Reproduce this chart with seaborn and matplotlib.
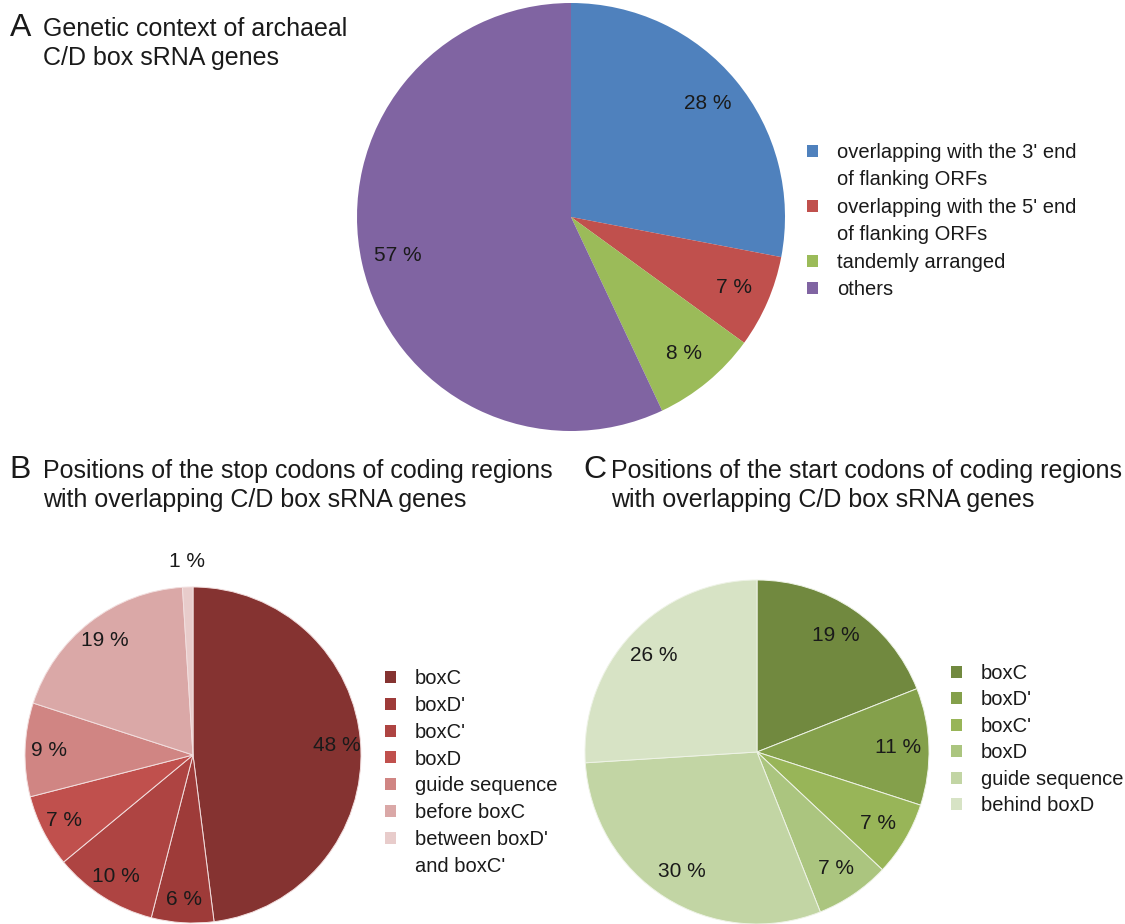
import matplotlib
matplotlib.use("Agg")
import matplotlib.pyplot as plt
from matplotlib.patches import Patch
import numpy as np
import seaborn as sns

sns.set_theme(style="white")
plt.rcParams["font.family"] = ["Liberation Sans", "DejaVu Sans"]

# Panel A: genetic context
ctx_labels = ["overlapping with the 3' end\nof flanking ORFs",
              "overlapping with the 5' end\nof flanking ORFs",
              "tandemly arranged", "others"]
ctx_values = [28, 7, 8, 57]
ctx_colors = ["#4F81BD", "#C0504D", "#9BBB59", "#8064A2"]

# Panel B: stop codon positions
stop_labels = ["boxC", "boxD'", "boxC'", "boxD", "guide sequence",
               "before boxC", "between boxD'\nand boxC'"]
stop_values = [48, 6, 10, 7, 9, 19, 1]
stop_colors = ["#853331", "#9E3B39", "#AE4442", "#C0504D", "#D08583",
               "#DAA8A7", "#E8CCCB"]

# Panel C: start codon positions
start_labels = ["boxC", "boxD'", "boxC'", "boxD", "guide sequence",
                "behind boxD"]
start_values = [19, 11, 7, 7, 30, 26]
start_colors = ["#71893F", "#84A04B", "#98B558", "#ABC57F", "#C2D5A4",
                "#D7E3C5"]

W, H = 1125, 924
TXT = "#1a1a1a"
fig = plt.figure(figsize=(W / 100, H / 100), dpi=100)
fig.patch.set_facecolor("white")


def px_axes(cx, cy, r):
    return fig.add_axes([(cx - r) / W, (H - cy - r) / H, 2 * r / W, 2 * r / H])


def draw_pie(ax, values, colors, pctdist, edge):
    wedges, _, autos = ax.pie(
        values, colors=colors, startangle=90, counterclock=False,
        autopct=lambda p: f"{p:.0f} %", pctdistance=pctdist,
        wedgeprops=dict(edgecolor=edge, linewidth=0.7 if edge != "none" else 0),
        textprops=dict(fontsize=15, color=TXT))
    ax.set_xlim(-1, 1)
    ax.set_ylim(-1, 1)
    ax.set_aspect("equal")
    ax.axis("off")
    return wedges, autos


def split_legend(labels, colors):
    # wrapped labels: colour square on the first line only
    handles, texts = [], []
    for lab, col in zip(labels, colors):
        lines = lab.split("\n")
        handles.append(Patch(facecolor=col, edgecolor="none"))
        texts.append(lines[0])
        for extra in lines[1:]:
            handles.append(Patch(facecolor="none", edgecolor="none"))
            texts.append(extra)
    return handles, texts


def add_legend(labels, colors, x, y, spacing):
    handles, texts = split_legend(labels, colors)
    leg = fig.legend(handles, texts, loc="upper left",
                     bbox_to_anchor=(x / W, 1 - y / H),
                     bbox_transform=fig.transFigure,
                     frameon=False, fontsize=14.5, handlelength=0.54,
                     handleheight=0.54, handletextpad=0.95,
                     labelspacing=spacing, borderpad=0, borderaxespad=0)
    for t in leg.get_texts():
        t.set_color(TXT)


def heading(letter, lx, tx, y0, lines):
    fig.text(lx / W, 1 - y0 / H, letter, fontsize=23, color=TXT, va="baseline")
    for i, line in enumerate(lines):
        fig.text(tx / W, 1 - (y0 + 29 * i) / H, line, fontsize=18, color=TXT,
                 va="baseline")


# Panel A
axA = px_axes(571, 217, 214)
draw_pie(axA, ctx_values, ctx_colors, 0.83, "none")
add_legend(ctx_labels, ctx_colors, 807, 143, 0.42)

# Panel B
axB = px_axes(193, 755, 168)
wB, tB = draw_pie(axB, stop_values, stop_colors, 0.86, "#f2dede")
small = int(np.argmin(stop_values))
ang = np.deg2rad((wB[small].theta1 + wB[small].theta2) / 2)
tB[small].set_position((1.15 * np.cos(ang), 1.15 * np.sin(ang)))
add_legend(stop_labels, stop_colors, 385, 669, 0.39)

# Panel C
axC = px_axes(757, 752, 172)
draw_pie(axC, start_values, start_colors, 0.82, "#eef3e6")
add_legend(start_labels, start_colors, 951, 664, 0.37)

# Panel headings
heading("A", 10, 43, 36, ["Genetic context of archaeal", "C/D box sRNA genes"])
heading("B", 9, 43, 478, ["Positions of the stop codons of coding regions",
                          "with overlapping C/D box sRNA genes"])
heading("C", 583, 611, 478, ["Positions of the start codons of coding regions",
                             "with overlapping C/D box sRNA genes"])

fig.savefig("out.png", dpi=100, facecolor="white")
